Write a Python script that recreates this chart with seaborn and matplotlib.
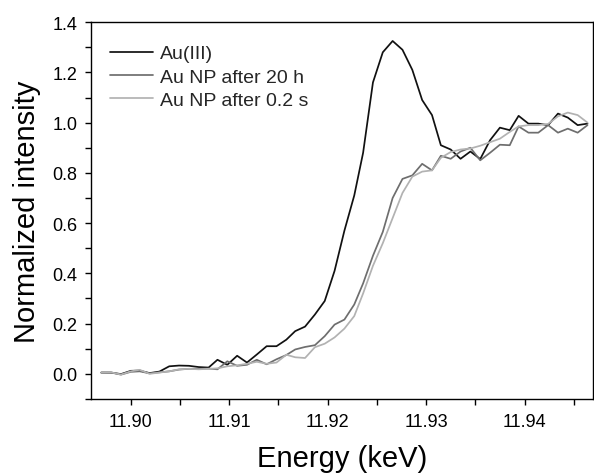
import matplotlib
matplotlib.use("Agg")
import matplotlib.pyplot as plt
import seaborn as sns
import pandas as pd
from matplotlib.ticker import MultipleLocator, FormatStrFormatter

# energy grid (keV)
energy = [11.8970, 11.8980, 11.8990, 11.9000, 11.9009, 11.9019, 11.9029, 11.9039,
          11.9049, 11.9059, 11.9069, 11.9079, 11.9088, 11.9098, 11.9108, 11.9118,
          11.9128, 11.9138, 11.9148, 11.9158, 11.9167, 11.9177, 11.9187, 11.9197,
          11.9207, 11.9217, 11.9227, 11.9236, 11.9246, 11.9256, 11.9266, 11.9276,
          11.9286, 11.9296, 11.9306, 11.9315, 11.9325, 11.9335, 11.9345, 11.9355,
          11.9365, 11.9375, 11.9385, 11.9394, 11.9404, 11.9414, 11.9424, 11.9434,
          11.9444, 11.9454, 11.9464]

au3 = [0.005, 0.005, -0.001, 0.012, 0.013, 0.003, 0.009, 0.030, 0.033, 0.032,
       0.027, 0.025, 0.056, 0.036, 0.072, 0.045, 0.077, 0.110, 0.110, 0.136,
       0.170, 0.188, 0.236, 0.290, 0.410, 0.570, 0.710, 0.880, 1.160, 1.280,
       1.325, 1.290, 1.210, 1.090, 1.030, 0.910, 0.893, 0.856, 0.885, 0.855,
       0.930, 0.980, 0.970, 1.027, 0.996, 0.996, 0.990, 1.036, 1.020, 0.990,
       0.996]

np_20h = [0.005, 0.005, -0.003, 0.008, 0.010, 0.002, 0.006, 0.010, 0.017, 0.020,
          0.020, 0.021, 0.018, 0.050, 0.032, 0.036, 0.056, 0.038, 0.058, 0.075,
          0.097, 0.107, 0.114, 0.150, 0.196, 0.216, 0.276, 0.360, 0.470, 0.565,
          0.700, 0.776, 0.790, 0.836, 0.810, 0.868, 0.856, 0.885, 0.900, 0.850,
          0.880, 0.912, 0.910, 0.985, 0.960, 0.960, 0.990, 0.960, 0.976, 0.960,
          0.990]

np_02s = [0.005, 0.006, -0.003, 0.010, 0.016, 0.000, 0.005, 0.010, 0.018, 0.020,
          0.018, 0.020, 0.022, 0.030, 0.034, 0.040, 0.048, 0.040, 0.045, 0.076,
          0.066, 0.063, 0.106, 0.120, 0.145, 0.180, 0.230, 0.320, 0.430, 0.520,
          0.620, 0.720, 0.785, 0.805, 0.810, 0.860, 0.883, 0.893, 0.897, 0.908,
          0.922, 0.936, 0.963, 0.985, 0.990, 0.990, 0.995, 1.025, 1.040, 1.030,
          1.000]

labels = ["Au(III)", "Au NP after 20 h", "Au NP after 0.2 s"]
colors = ["#111111", "#6e6e6e", "#b2b2b2"]

df = pd.concat([
    pd.DataFrame({"energy": energy, "intensity": au3, "sample": labels[0]}),
    pd.DataFrame({"energy": energy, "intensity": np_20h, "sample": labels[1]}),
    pd.DataFrame({"energy": energy, "intensity": np_02s, "sample": labels[2]}),
])

sns.set_style("ticks")
plt.rcParams["font.family"] = ["Liberation Sans", "DejaVu Sans"]

fig = plt.figure(figsize=(5.94, 4.77), dpi=100)
ax = fig.add_axes([0.154, 0.1615, 0.845, 0.79])

sns.lineplot(data=df, x="energy", y="intensity", hue="sample",
             palette=dict(zip(labels, colors)), hue_order=labels,
             linewidth=1.25, ax=ax, sort=False)

ax.set_xlim(11.896, 11.947)
ax.set_ylim(-0.1, 1.4)
ax.xaxis.set_major_locator(MultipleLocator(0.01))
ax.xaxis.set_minor_locator(MultipleLocator(0.005))
ax.yaxis.set_major_locator(MultipleLocator(0.2))
ax.yaxis.set_minor_locator(MultipleLocator(0.1))
ax.xaxis.set_major_formatter(FormatStrFormatter("%.2f"))
ax.yaxis.set_major_formatter(FormatStrFormatter("%.1f"))

for s in ax.spines.values():
    s.set_visible(True)
    s.set_linewidth(1.0)
    s.set_color("black")
ax.tick_params(which="both", direction="out", length=4, width=1.0,
               labelsize=13, labelcolor="black", color="black",
               top=False, right=False)
ax.tick_params(axis="x", pad=6)
ax.tick_params(axis="y", pad=6)

ax.set_xlabel("Energy (keV)", fontsize=21, labelpad=10, color="black")
ax.set_ylabel("Normalized intensity", fontsize=21, labelpad=8, color="black")

handles, labs = ax.get_legend_handles_labels()
ax.legend(handles, labs, loc="upper left", bbox_to_anchor=(0.037, 0.94),
          frameon=False, fontsize=14, handlelength=2.2, handletextpad=0.35,
          labelspacing=0.3, borderaxespad=0, borderpad=0)

fig.savefig("out.png", dpi=100)
